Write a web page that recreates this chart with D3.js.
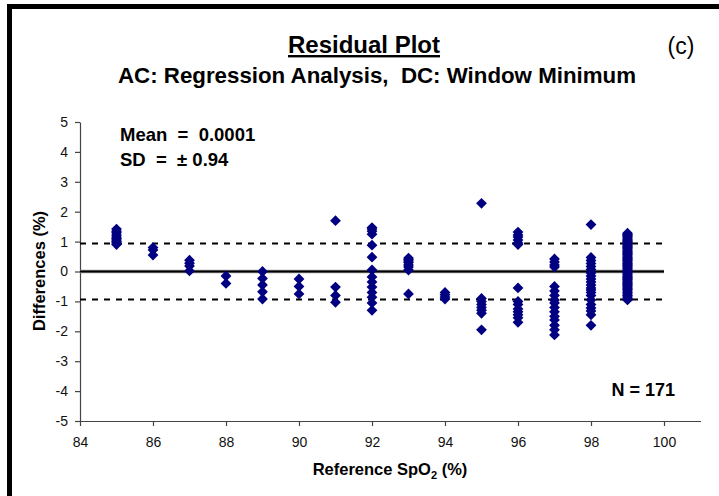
<!DOCTYPE html>
<html>
<head>
<meta charset="utf-8">
<script src="https://cdn.jsdelivr.net/npm/d3@7"></script>
<style>
  body { margin: 0; background: #fff; }
  svg { display: block; font-family: "Liberation Sans", Arial, sans-serif; }
</style>
</head>
<body>
<script>
// reference SpO2 level and the residual of each reading (%)
const x85 = [1.42, 1.35, 1.3, 1.22, 1.15, 1.1, 1.05, 1.0, 0.95, 0.9];
const x86 = [0.8, 0.72, 0.55];
const x87 = [0.38, 0.28, 0.18, 0.02];
const x88 = [-0.15, -0.4];
const x89 = [0.0, -0.23, -0.45, -0.68, -0.92];
const x90 = [-0.25, -0.5, -0.75];
const x91 = [1.7, -0.52, -0.8, -1.03];
const x92 = [1.47, 1.42, 1.35, 1.25, 0.88, 0.48, 0.05, -0.18, -0.35, -0.52, -0.7, -0.86, -1.05, -1.3];
const x93 = [0.45, 0.4, 0.35, 0.3, 0.22, 0.15, 0.05, -0.75];
const x94 = [-0.7, -0.78, -0.85, -0.92];
const x95 = [2.28, -0.9, -1.0, -1.1, -1.2, -1.3, -1.4, -1.95];
const x96 = [1.32, 1.22, 1.15, 1.05, 0.95, 0.9, -0.55, -1.0, -1.1, -1.25, -1.35, -1.45, -1.55, -1.7];
const x97 = [0.42, 0.32, 0.22, 0.15, -0.5, -0.65, -0.8, -0.95, -1.05, -1.2, -1.35, -1.5, -1.62, -1.8, -1.95, -2.12];
const x98 = [1.57, 0.47, 0.37, 0.27, 0.17, 0.07, -0.05, -0.15, -0.25, -0.35, -0.45, -0.55, -0.62, -0.7, -0.8, -0.95, -1.1, -1.22, -1.32, -1.45, -1.8];
const x99 = [1.28, 1.24, 1.2, 1.16, 1.12, 1.08, 1.04, 1.0, 0.96, 0.92, 0.88, 0.84, 0.8, 0.76, 0.72, 0.68,
             0.64, 0.6, 0.56, 0.52, 0.48, 0.44, 0.4, 0.36, 0.32, 0.28, 0.24, 0.2, 0.16, 0.12, 0.08, 0.04,
             0.0, -0.04, -0.08, -0.12, -0.16, -0.2, -0.24, -0.28, -0.32, -0.36, -0.4, -0.44, -0.48, -0.52,
             -0.56, -0.6, -0.65, -0.7, -0.75, -0.8, -0.85, -0.9, -0.95];

const columns = [
  [85, x85], [86, x86], [87, x87], [88, x88], [89, x89], [90, x90], [91, x91], [92, x92],
  [93, x93], [94, x94], [95, x95], [96, x96], [97, x97], [98, x98], [99, x99]
];

const xTicks = [84, 86, 88, 90, 92, 94, 96, 98, 100];
const yTicks = [-5, -4, -3, -2, -1, 0, 1, 2, 3, 4, 5];
const meanDiff = 0.0001;
const sdLimit = 0.94;
const lineRange = [84, 100];

var points = [];
columns.forEach(function(c) {
  c[1].forEach(function(v) { points.push({ ref: c[0], diff: v }); });
});

const width = 719, height = 496;

var svg = d3.select("body").append("svg")
  .attr("width", width)
  .attr("height", height);

var x = d3.scaleLinear().domain([84, 101]).range([80, 700.5]);
var y = d3.scaleLinear().domain([-5, 5]).range([421, 122]);

// frame (only top and left edges show in the crop)
svg.append("rect")
  .attr("x", 9.5).attr("y", 6.5)
  .attr("width", 800).attr("height", 700)
  .attr("fill", "none")
  .attr("stroke", "#000")
  .attr("stroke-width", 5);

// axes, plain hyphen for negatives like the original
var xAxis = svg.append("g")
  .attr("transform", "translate(0," + y(-5) + ")")
  .call(d3.axisBottom(x).tickValues(xTicks).tickSize(5).tickSizeOuter(0).tickPadding(11)
    .tickFormat(function(d) { return String(d); }));

var yAxis = svg.append("g")
  .attr("transform", "translate(" + x(84) + ",0)")
  .call(d3.axisLeft(y).tickValues(yTicks).tickSize(5).tickSizeOuter(0).tickPadding(7)
    .tickFormat(function(d) { return String(d); }));

[xAxis, yAxis].forEach(function(a) {
  a.select(".domain").attr("stroke", "#444").attr("stroke-width", 1.2);
  a.selectAll(".tick line").attr("stroke", "#444").attr("stroke-width", 1.2);
  a.selectAll(".tick text")
    .attr("font-family", "Liberation Sans, Arial, sans-serif")
    .attr("font-size", 14)
    .attr("fill", "#111");
});

// mean line and +/- SD limits
svg.append("line")
  .attr("x1", x(lineRange[0])).attr("x2", x(lineRange[1]))
  .attr("y1", y(meanDiff)).attr("y2", y(meanDiff))
  .attr("stroke", "#999").attr("stroke-width", 3.5);
svg.append("line")
  .attr("x1", x(lineRange[0])).attr("x2", x(lineRange[1]))
  .attr("y1", y(meanDiff)).attr("y2", y(meanDiff))
  .attr("stroke", "#000").attr("stroke-width", 1.8);

[sdLimit, -sdLimit].forEach(function(v) {
  svg.append("line")
    .attr("x1", x(lineRange[0])).attr("x2", x(lineRange[1]))
    .attr("y1", y(v)).attr("y2", y(v))
    .attr("stroke", "#000").attr("stroke-width", 2)
    .attr("stroke-dasharray", "6,6");
});

// residual points
svg.selectAll("path.pt")
  .data(points)
  .enter().append("path")
  .attr("class", "pt")
  .attr("d", "M0,-5.4L5.4,0L0,5.4L-5.4,0Z")
  .attr("transform", function(d) { return "translate(" + x(d.ref) + "," + y(d.diff) + ")"; })
  .attr("fill", "#000080");

// titles
svg.append("text")
  .attr("x", 364).attr("y", 53)
  .attr("text-anchor", "middle")
  .attr("font-size", 24).attr("font-weight", "bold")
  .attr("text-decoration", "underline")
  .text("Residual Plot");

svg.append("text")
  .attr("x", 377).attr("y", 83)
  .attr("text-anchor", "middle")
  .attr("font-size", 22.3).attr("font-weight", "bold")
  .attr("xml:space", "preserve")
  .text("AC: Regression Analysis,  DC: Window Minimum");

svg.append("text")
  .attr("x", 681).attr("y", 54)
  .attr("text-anchor", "middle")
  .attr("font-size", 23)
  .text("(c)");

svg.append("text")
  .attr("x", 120).attr("y", 141)
  .attr("font-size", 18.5).attr("font-weight", "bold")
  .attr("xml:space", "preserve")
  .text("Mean  =  " + meanDiff.toFixed(4));

svg.append("text")
  .attr("x", 120).attr("y", 166)
  .attr("font-size", 18.5).attr("font-weight", "bold")
  .attr("xml:space", "preserve")
  .text("SD  =  \u00b1 " + sdLimit.toFixed(2));

svg.append("text")
  .attr("x", 675).attr("y", 396)
  .attr("text-anchor", "end")
  .attr("font-size", 18).attr("font-weight", "bold")
  .text("N = " + points.length);

// axis titles
var xt = svg.append("text")
  .attr("x", 390).attr("y", 475)
  .attr("text-anchor", "middle")
  .attr("font-size", 16.5).attr("font-weight", "bold");
xt.append("tspan").text("Reference SpO");
xt.append("tspan").attr("font-size", 11).attr("dy", 4).text("2");
xt.append("tspan").attr("dy", -4).text(" (%)");

svg.append("text")
  .attr("transform", "translate(45,271) rotate(-90)")
  .attr("text-anchor", "middle")
  .attr("font-size", 16.5).attr("font-weight", "bold")
  .text("Differences (%)");
</script>
</body>
</html>
